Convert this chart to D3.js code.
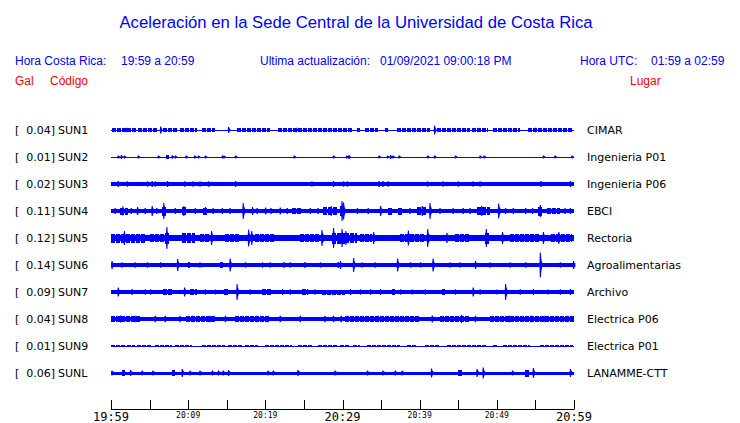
<!DOCTYPE html>
<html><head><meta charset="utf-8">
<script src="https://cdn.jsdelivr.net/npm/d3@7"></script>
<style>
html,body{margin:0;padding:0;background:#fff;}
svg{display:block;}
</style></head>
<body>
<svg id="chart" width="740" height="423"></svg>
<script>
// ---------------- DATA ----------------
const codes  = ["SUN1","SUN2","SUN3","SUN4","SUN5","SUN6","SUN7","SUN8","SUN9","SUNL"];
const peaks  = ["0.04","0.01","0.02","0.11","0.12","0.14","0.09","0.04","0.01","0.06"];
const places = ["CIMAR","Ingenieria P01","Ingenieria P06","EBCI","Rectoria","Agroalimentarias","Archivo","Electrica P06","Electrica P01","LANAMME-CTT"];
// continuous background amplitude of each trace (relative units)
const baseAmp = [0.5, 0.5, 1.7, 1.9, 3.3, 1.8, 1.8, 2.2, 0.5, 1.5];

// minutes after 19:59 ; bursts = [start, end, amplitude], spikes = [time, amplitude]
const sun1Bursts = [[0.1,3.4,1.6],[3.5,6.1,1.6],[6.7,8.6,1.6],[8.9,11.1,1.6],[11.8,13.5,1.6],[16.3,20.6,1.6],[21.6,31.2,1.6],[31.9,32.3,1.6],[32.9,34.6,1.6],[35.5,35.9,1.6],[37.1,41.3,1.6],[42.2,46.5,1.6],[46.8,48.9,1.6],[49.5,53.0,1.6],[54.0,59.9,1.6]];
const sun1Spikes = [[6.4,3.5],[15.2,3],[41.9,4.5],[2.0,2.2],[24.0,2.2],[47.5,2.2],[55.0,2.2]];

const sun2Bursts = [[7.1,7.5,1.6]];
const sun2Spikes = [[0.9,1.6],[1.3,2],[1.7,1.6],[3.5,1.6],[6.1,1.6],[7.9,1.8],[8.3,1.6],[9.7,1.6],[10.8,1.6],[11.3,1.6],[12.2,1.6],[14.4,1.6],[14.6,1.6],[16.1,1.6],[23.7,1.6],[28.8,1.6],[30.5,1.6],[30.8,2],[34.7,1.6],[35.8,1.6],[36.2,2],[36.5,1.6],[37.3,1.6],[41.0,1.6],[41.9,1.6],[44.6,1.6],[47.8,1.6],[48.3,1.6],[56.0,1.6],[57.5,1.6],[59.7,1.6]];

const sun3Bursts = [];
const sun3Spikes = [[0.9,3],[2.1,2.8],[4.7,2.8],[5.3,3],[5.7,2.8],[7.3,3],[9.5,2.8],[10.6,2.8],[11.5,2.8],[12.6,2.8],[16.1,3],[26.0,2.8],[28.8,3],[30.1,2.8],[30.6,2.8],[34.7,3],[35.2,3],[35.9,2.8],[41.0,2.8],[43.0,2.8],[45.0,2.8],[46.9,2.8],[47.8,2.8],[55.7,3],[59.5,3]];

const sun4Bursts = [[1.2,2.2,3.5],[6.6,7.3,4.5],[9.2,9.8,4],[11.9,12.6,3.5],[23.5,24.8,3],[27.5,29.4,4],[29.7,30.3,5],[35.9,36.5,3.5],[37.2,37.8,3.5],[39.7,41.0,4],[47.4,49.1,4],[55.3,56.0,4.5],[56.5,58.2,3.2]];
const sun4Spikes = [[1.5,4.5],[3.4,4],[5.3,5],[6.8,8],[9.4,5],[12.2,4],[17.1,8],[18.3,4],[20.0,3.5],[21.9,3.5],[28.5,5],[29.9,10],[30.1,8.5],[34.9,5],[40.3,5],[41.3,8],[44.3,3],[45.6,3],[48.0,5],[50.2,7.5],[52.1,3],[54.6,3],[55.6,6],[0.5,3],[2.6,3],[4.4,3],[5.9,3],[8.3,3],[10.9,3],[13.2,3],[14.4,3],[15.4,3],[18.9,3],[20.7,3],[22.8,3],[25.8,3],[26.8,3],[31.9,3],[33.3,3],[38.7,3],[42.6,3],[46.5,3],[51.1,3],[53.7,3],[58.8,3],[59.5,3]];

const sun5Bursts = [[0.0,4.4,4.5],[5.1,7.0,4.2],[7.0,7.6,5.5],[9.2,10.9,5],[11.5,12.8,4.2],[14.8,16.7,4.2],[18.7,21.3,4.2],[24.5,27.1,4.2],[28.6,30.3,5.5],[29.7,31.9,5],[32.3,33.8,4.2],[37.5,40.7,4.2],[44.6,46.5,4.2],[48.5,49.1,5.5],[51.7,55.6,4.2],[57.0,59.7,4.2]];
const sun5Spikes = [[1.7,7],[7.2,11],[13.0,7],[17.8,8.5],[18.2,7],[27.3,8],[28.8,10],[29.9,9],[30.4,7],[34.0,6],[38.5,7.5],[41.0,9],[43.5,5],[48.6,9],[50.7,6],[56.0,6],[58.0,6]];

const sun6Bursts = [[10.0,10.2,3],[14.1,14.5,3]];
const sun6Spikes = [[0.1,4],[8.6,6],[15.4,6.5],[22.4,3],[25.1,3],[29.4,3],[29.7,4],[31.4,7],[37.1,6.5],[41.7,6.5],[47.2,4],[55.6,12.5],[59.9,4],[1.4,2.8],[3.1,2.8],[4.7,2.8],[6.4,2.8],[11.5,2.8],[17.4,2.8],[19.6,2.8],[20.6,2.8],[23.2,2.8],[27.1,2.8],[32.5,2.8],[34.2,2.8],[38.8,2.8],[40.1,2.8],[43.9,2.8],[45.2,2.8],[49.1,2.8],[51.7,2.8],[53.7,2.8],[58.2,2.8]];

const sun7Bursts = [[6.7,7.9,3],[10.2,11.1,3],[14.6,15.2,3],[19.6,20.9,3],[24.8,25.5,3],[27.3,30.3,2.5],[36.4,36.8,3],[42.9,43.3,3]];
const sun7Spikes = [[0.9,4.5],[2.7,3],[9.5,4.5],[13.5,2.5],[16.3,8],[22.2,3],[31.0,3],[34.9,3],[39.0,2.5],[46.9,4.5],[50.0,2.5],[51.1,8],[54.7,3],[56.6,2.5],[59.5,3],[4.4,2.8],[5.1,2.8],[12.2,2.8],[18.0,2.8],[23.2,2.8],[26.4,2.8],[32.3,2.8],[33.6,2.8],[37.5,2.8],[40.7,2.8],[44.6,2.8],[47.8,2.8],[53.0,2.8],[58.2,2.8]];

const sun8Bursts = [[0.0,3.8,2.8],[9.7,13.5,2.8],[16.1,20.6,2.8],[30.3,40.0,2.8],[42.6,46.5,2.8],[49.1,60.0,2.8]];
const sun8Spikes = [[1.2,3.5],[3.1,3.2],[5.7,3.2],[7.0,3.2],[8.9,3.2],[10.5,3.2],[12.8,3.2],[14.8,3.2],[16.3,3.2],[18.8,3.2],[20.3,3.2],[21.9,3.2],[24.5,3.2],[27.7,3.2],[28.8,3.2],[29.8,3.2],[30.6,3.2],[34.6,3.2],[37.2,3.2],[41.6,3.5],[45.4,4],[47.2,3.2],[51.6,3.2],[54.4,3.5],[56.2,3.2],[59.1,3.2]];

const sun9Bursts = [[0.0,1.8,1.3],[2.1,3.1,1.3],[3.4,5.3,1.3],[5.7,7.9,1.3],[8.3,10.5,1.3],[11.8,14.8,1.3],[15.2,17.0,1.3],[17.4,19.1,1.3],[20.0,23.5,1.3],[24.2,26.0,1.3],[26.8,29.4,1.3],[29.7,31.0,1.3],[31.4,32.3,1.3],[33.2,37.5,1.3],[38.4,39.7,1.3],[40.7,42.6,1.3],[43.5,48.7,1.3],[49.5,50.0,1.3],[50.8,54.3,1.3],[55.6,59.9,1.3]];
const sun9Spikes = [];

const sunLBursts = [[1.4,1.8,3],[7.9,8.3,3],[45.0,45.5,3],[53.7,54.3,3.5]];
const sunLSpikes = [[0.1,2.5],[2.5,3],[4.0,2.5],[5.4,2.5],[9.2,4],[10.2,2.5],[11.5,2.5],[13.1,2.5],[13.9,2.5],[14.5,2.5],[15.2,3],[20.3,2.5],[21.0,2.5],[24.2,3],[29.0,2.5],[33.2,2.5],[35.2,2.5],[36.8,2.5],[37.7,2.5],[41.5,4.5],[47.4,4],[48.2,5.5],[52.0,2.5],[54.7,5],[59.5,4]];

const bursts = [sun1Bursts,sun2Bursts,sun3Bursts,sun4Bursts,sun5Bursts,sun6Bursts,sun7Bursts,sun8Bursts,sun9Bursts,sunLBursts];
const spikes = [sun1Spikes,sun2Spikes,sun3Spikes,sun4Spikes,sun5Spikes,sun6Spikes,sun7Spikes,sun8Spikes,sun9Spikes,sunLSpikes];

// time axis: minutes after 19:59
const tickMinutes = [0,5,10,15,20,25,30,35,40,45,50,55,60];
const tickLabels  = {0:"19:59",10:"20:09",20:"20:19",30:"20:29",40:"20:39",50:"20:49",60:"20:59"};
const majorTicks  = [0,30,60];

// ---------------- DRAW ----------------
const svg = d3.select("#chart");
const BLUE = "#0000ff", RED = "#ff0000";
const sans = "'Liberation Sans', Arial, Helvetica, sans-serif";
const dv = "'DejaVu Sans', sans-serif";

// header
svg.append("text").attr("x", 356).attr("y", 28).attr("text-anchor","middle")
  .attr("font-family", sans).attr("font-size", 16.7).attr("fill", BLUE)
  .text("Aceleración en la Sede Central de la Universidad de Costa Rica");

const hdr = [
  [15, 65, "Hora Costa Rica:", BLUE],
  [121, 65, "19:59 a 20:59", BLUE],
  [260, 65, "Ultima actualización:", BLUE],
  [380, 65, "01/09/2021 09:00:18 PM", BLUE],
  [580, 65, "Hora UTC:", BLUE],
  [651, 65, "01:59 a 02:59", BLUE],
  [15, 85, "Gal", RED],
  [50, 85, "Código", RED],
  [630, 85, "Lugar", RED]
];
svg.selectAll("text.hdr").data(hdr).join("text").attr("class","hdr")
  .attr("x", d=>d[0]).attr("y", d=>d[1]).attr("fill", d=>d[3])
  .attr("font-family", sans).attr("font-size", 12).text(d=>d[2]);

// scales
const x = d3.scaleLinear().domain([0, 60]).range([111, 574]);
const yRow = d3.scalePoint().domain(codes).range([130, 373]);
const amp = d3.scaleLinear().domain([0, 10]).range([0, 10]);

const rows = svg.append("g");
codes.forEach((code, i) => {
  const cy = yRow(code);
  const g = rows.append("g");
  // labels
  g.append("text").attr("x", 15).attr("y", cy+4).attr("font-family", dv).attr("font-size", 11).text("[");
  g.append("text").attr("x", 55).attr("y", cy+4).attr("text-anchor","end").attr("font-family", dv).attr("font-size", 11).text(peaks[i] + "]");
  g.append("text").attr("x", 58).attr("y", cy+4).attr("font-family", dv).attr("font-size", 11).text(code);
  g.append("text").attr("x", 587).attr("y", cy+4).attr("font-family", dv).attr("font-size", 11).text(places[i]);

  // continuous band
  g.append("rect").attr("x", x(0)).attr("width", x(60)-x(0))
    .attr("y", cy - amp(baseAmp[i])).attr("height", Math.max(1, 2*amp(baseAmp[i])))
    .attr("fill", BLUE).attr("shape-rendering","crispEdges");
  // bursts: drawn as broken (dashed) thick strokes to mimic intermittent oscillation
  g.selectAll("line.b").data(bursts[i]).join("line").attr("class","b")
    .attr("x1", d=>x(d[0])).attr("x2", d=>x(d[1]))
    .attr("y1", cy).attr("y2", cy)
    .attr("stroke", BLUE).attr("stroke-width", d=>2*amp(d[2]))
    .attr("stroke-dasharray", "4 1").attr("shape-rendering","crispEdges");
  // spikes (narrow wave packets)
  g.selectAll("path.s").data(spikes[i]).join("path").attr("class","s")
    .attr("d", d => {
      const px = x(d[0]), a = amp(d[1]), b = amp(baseAmp[i]);
      return `M${px-0.6},${cy-b} L${px-0.2},${cy-a} L${px+0.8},${cy-a} L${px+1.2},${cy-a*0.55} L${px+2.2},${cy-b}`+
             ` L${px+2.2},${cy+b} L${px+1.2},${cy+a*0.55} L${px+0.8},${cy+a} L${px-0.2},${cy+a} L${px-0.6},${cy+b} Z`;
    })
    .attr("fill", BLUE);
});

// time axis
const axY = 409;
const ax = svg.append("g");
ax.append("line").attr("x1", x(0)).attr("x2", x(60)).attr("y1", axY+0.5).attr("y2", axY+0.5)
  .attr("stroke","#000").attr("stroke-width",1);
ax.selectAll("line.t").data(tickMinutes).join("line").attr("class","t")
  .attr("x1", d=>Math.round(x(d))+0.5).attr("x2", d=>Math.round(x(d))+0.5)
  .attr("y1", axY-9).attr("y2", axY+0.5).attr("stroke","#000").attr("stroke-width",1);
ax.selectAll("text.t").data(Object.keys(tickLabels).map(Number)).join("text").attr("class","t")
  .attr("x", d=>x(d)).attr("y", d=> majorTicks.includes(d) ? 421 : 418)
  .attr("text-anchor","middle").attr("font-family","'DejaVu Sans Mono', monospace")
  .attr("font-size", d=> majorTicks.includes(d) ? 12 : 8)
  .text(d=>tickLabels[d]);
</script>
</body></html>
